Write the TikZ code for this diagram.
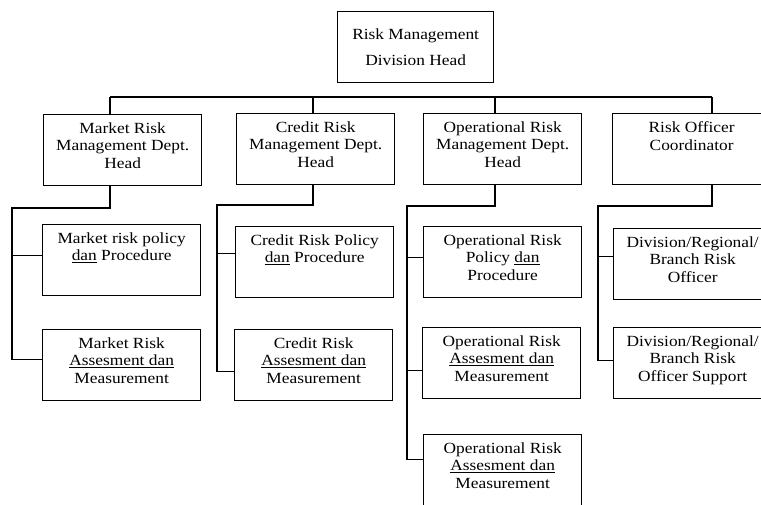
\documentclass[tikz,border=0pt]{standalone}
\usepackage{fontspec}
\setmainfont{Liberation Serif}[FakeStretch=1.12]
\usetikzlibrary{calc}

\tikzset{
  unit/.style={draw, line width=1.3pt, anchor=north west, inner sep=0pt,
    font=\fontsize{15.5}{17.5}\selectfont},
  link/.style={line width=1.3pt},
}
\newcommand{\unittext}[1]{\parbox[c][71pt][t]{158pt}{\centering\vspace{8pt}#1}}
\newcommand{\undl}[1]{\underline{#1}}

\begin{document}
\begin{tikzpicture}[x=1pt,y=-1pt]
  \useasboundingbox (0,0) rectangle (761,504);
  % division head
  \node[unit] (head) at (337,11)
    {\parbox[c][71pt][c]{156pt}{\centering Risk Management\\[8pt] Division Head}};
  % department heads
  \node[unit] (mkt) at (43,114) {\unittext{Market Risk\\ Management Dept.\\ Head}};
  \node[unit] (crd) at (236,113) {\unittext{Credit Risk\\ Management Dept.\\ Head}};
  \node[unit] (ops) at (423,113) {\unittext{Operational Risk\\ Management Dept.\\ Head}};
  \node[unit] (roc) at (612,113) {\unittext{Risk Officer\\ Coordinator}};
  % market risk units
  \node[unit] (mkt1) at (42,224) {\unittext{Market risk policy\\ \undl{dan} Procedure}};
  \node[unit] (mkt2) at (42,329) {\unittext{Market Risk\\ \undl{Assesment dan}\\ Measurement}};
  % credit risk units
  \node[unit] (crd1) at (235,226) {\unittext{Credit Risk Policy\\ \undl{dan} Procedure}};
  \node[unit] (crd2) at (234,329) {\unittext{Credit Risk\\ \undl{Assesment dan}\\ Measurement}};
  % operational risk units
  \node[unit] (ops1) at (423,226) {\unittext{Operational Risk\\ Policy \undl{dan}\\ Procedure}};
  \node[unit] (ops2) at (422,327) {\unittext{Operational Risk\\ \undl{Assesment dan}\\ Measurement}};
  \node[unit] (ops3) at (423,434) {\unittext{Operational Risk\\ \undl{Assesment dan}\\ Measurement}};
  % risk officers
  \node[unit] (roc1) at (613,228) {\unittext{Division/Regional/\\ Branch Risk\\ Officer}};
  \node[unit] (roc2) at (613,327) {\unittext{Division/Regional/\\ Branch Risk\\ Officer Support}};

  % bus under the division head
  \coordinate (mktTap) at (110,97);
  \coordinate (crdTap) at (313,97);
  \coordinate (opsTap) at (495,97);
  \coordinate (rocTap) at (712,97);
  \draw[link] (mktTap) -- (rocTap);
  \foreach \t/\d in {mktTap/mkt,crdTap/crd,opsTap/ops,rocTap/roc}
    \draw[link] (\t) -- (\t |- \d.north);

  % entry points on the unit boxes
  \coordinate (mkt1in) at ([yshift=4.5]mkt1.west);
  \coordinate (mkt2in) at ([yshift=5.5]mkt2.west);
  \coordinate (crd1in) at ([yshift=8.5]crd1.west);
  \coordinate (crd2in) at ([yshift=-6.5]crd2.west);
  \coordinate (ops1in) at ([yshift=4.5]ops1.west);
  \coordinate (ops2in) at ([yshift=-7.5]ops2.west);
  \coordinate (ops3in) at ([yshift=10.5]ops3.west);
  \coordinate (roc1in) at ([yshift=8]roc1.west);
  \coordinate (roc2in) at ([yshift=2.5]roc2.west);

  % side rails
  \coordinate (mktRail) at (12,208);
  \coordinate (crdRail) at (217,205);
  \coordinate (opsRail) at (407,206);
  \coordinate (rocRail) at (598,206);
  \draw[link] (mktTap |- mkt.south) |- (mktRail) |- (mkt2in);
  \draw[link] (mktRail |- mkt1in) -- (mkt1in);
  \draw[link] (crdTap |- crd.south) |- (crdRail) |- (crd2in);
  \draw[link] (crdRail |- crd1in) -- (crd1in);
  \draw[link] (opsTap |- ops.south) |- (opsRail) |- (ops3in);
  \draw[link] (opsRail |- ops1in) -- (ops1in);
  \draw[link] (opsRail |- ops2in) -- (ops2in);
  \draw[link] (rocTap |- roc.south) |- (rocRail) |- (roc2in);
  \draw[link] (rocRail |- roc1in) -- (roc1in);
\end{tikzpicture}
\end{document}
